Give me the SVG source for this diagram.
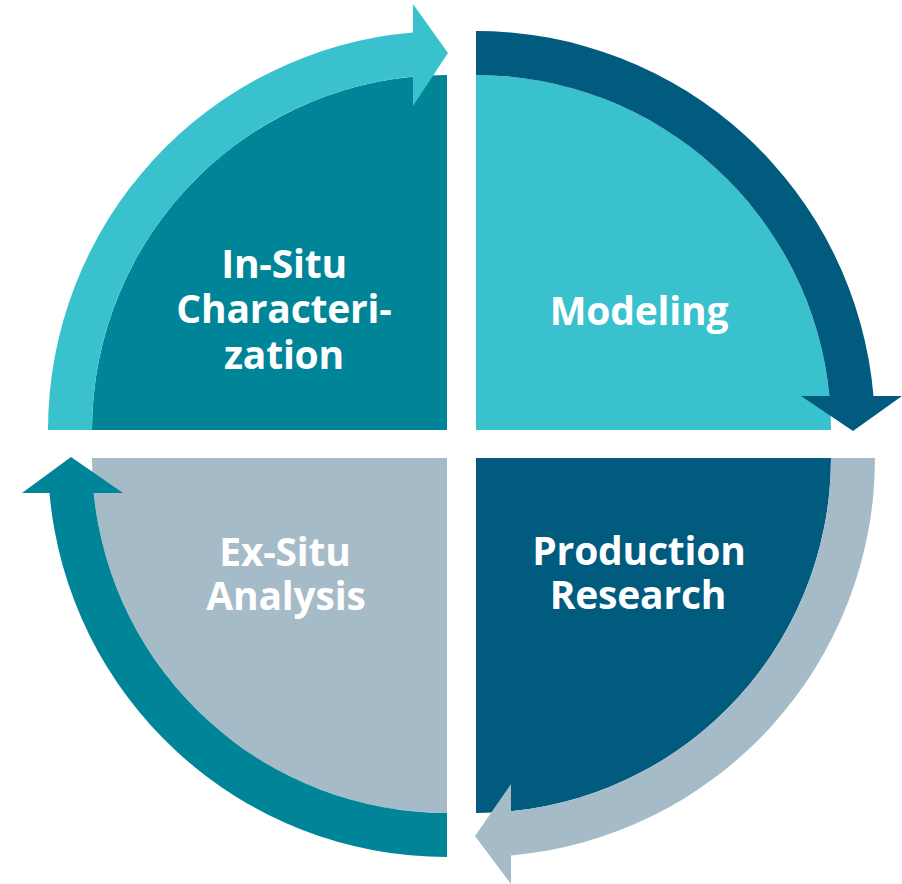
<svg xmlns="http://www.w3.org/2000/svg" width="902" height="884" viewBox="0 0 902 884">
  <style>
    .lbl { font-family: "Open Sans", "Liberation Sans", sans-serif; font-weight: 700; font-size: 39px; letter-spacing: -0.2px; fill: #ffffff; text-anchor: middle; }
    .c-dark { fill: #005B7F; }
    .c-teal { fill: #008598; }
    .c-light { fill: #39C1CD; }
    .c-grey { fill: #A6BBC8; }
  </style>
  <rect width="902" height="884" fill="#ffffff"/>

  <g id="node-insitu">
    <path class="c-teal" d="M447,430 L92,430 A355,355 0 0 1 447,75 Z"/>
    <text class="lbl" x="284" y="278">In-Situ</text>
    <text class="lbl" x="284" y="323">Characteri-</text>
    <text class="lbl" x="284" y="369">zation</text>
  </g>

  <g id="node-modeling">
    <path class="c-light" d="M476,430 L476,75 A355,355 0 0 1 831,430 Z"/>
    <text class="lbl" x="639" y="325">Modeling</text>
  </g>

  <g id="node-production">
    <path class="c-dark" d="M476,458 L831,458 A355,355 0 0 1 476,813 Z"/>
    <text class="lbl" x="639" y="565">Production</text>
    <text class="lbl" x="638" y="609">Research</text>
  </g>

  <g id="node-exsitu">
    <path class="c-grey" d="M447,458 L447,813 A355,355 0 0 1 92,458 Z"/>
    <text class="lbl" x="285" y="566">Ex-Situ</text>
    <text class="lbl" x="286" y="610">Analysis</text>
  </g>

  <g id="connectors">
    <path class="c-light" d="M48,430 A399,399 0 0 1 413,32.5 L413,4 L448,53 L413,106 L413,76.6 A355,355 0 0 0 92,430 Z"/>
    <path class="c-dark" d="M476,31 A399,399 0 0 1 873.5,396 L902,396 L853,431 L801,396 L829.4,396 A355,355 0 0 0 476,75 Z"/>
    <path class="c-grey" d="M875,458 A399,399 0 0 1 511,855.5 L511,884 L475,836 L511,784 L511,811.3 A355,355 0 0 0 831,458 Z"/>
    <path class="c-teal" d="M447,857 A399,399 0 0 1 49.5,493 L22,493 L71,457 L123,493 L93.7,493 A355,355 0 0 0 447,813 Z"/>
  </g>
</svg>
